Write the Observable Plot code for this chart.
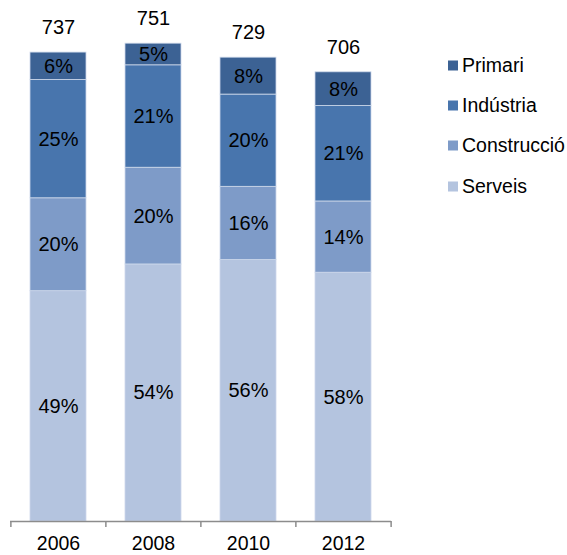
<!DOCTYPE html>
<html>
<head>
<meta charset="utf-8">
<script src="https://cdn.jsdelivr.net/npm/d3@7"></script>
<script src="https://cdn.jsdelivr.net/npm/@observablehq/plot@0.6"></script>
<style>
  html, body { margin: 0; padding: 0; background: #fff; }
  #wrap { position: relative; width: 567px; height: 555px; font-family: "Liberation Sans", Arial, sans-serif; }
  #wrap svg { display: block; }
  .legend { position: absolute; left: 448px; top: 0; }
  .legend .row { position: absolute; left: 0; display: flex; align-items: center; white-space: nowrap; font-size: 19.5px; color: #000; transform: translateY(-50%); }
  .legend .sw { width: 10px; height: 10px; margin-right: 4px; }
</style>
</head>
<body>
<div id="wrap"></div>
<script>
// ---- data ----
const years = ["2006", "2008", "2010", "2012"];
const totals = [737, 751, 729, 706];
const sectors = ["Serveis", "Construcció", "Indústria", "Primari"];
const serveis = [362, 404, 411, 391];
const construccio = [146, 152, 115, 112];
const industria = [186, 161, 145, 150];
const primari = [43, 34, 58, 53];
const pctServeis = ["49%", "54%", "56%", "58%"];
const pctConstruccio = ["20%", "20%", "16%", "14%"];
const pctIndustria = ["25%", "21%", "20%", "21%"];
const pctPrimari = ["6%", "5%", "8%", "8%"];
const colors = ["#b4c4df", "#7e9bc8", "#4875ad", "#3c6294"];

const seriesValues = [serveis, construccio, industria, primari];
const seriesLabels = [pctServeis, pctConstruccio, pctIndustria, pctPrimari];
const rows = [];
sectors.forEach((s, si) => {
  years.forEach((y, yi) => {
    rows.push({year: y, sector: s, value: seriesValues[si][yi], label: seriesLabels[si][yi]});
  });
});
const totalRows = years.map((y, i) => ({year: y, total: totals[i]}));

const W = 567, H = 555, mL = 10, mR = 176;
const step = (W - mL - mR) / years.length;
const FS = 20;

const chart = Plot.plot({
  width: W,
  height: H,
  marginLeft: mL,
  marginRight: mR,
  marginTop: 12,
  marginBottom: 34,
  style: {fontFamily: "'Liberation Sans', Arial, sans-serif", fontSize: FS + "px", color: "#000", background: "#fff"},
  x: {domain: years, type: "band", paddingInner: 0.41, paddingOuter: 0.205, label: null},
  y: {domain: [0, 800], axis: null},
  color: {domain: sectors, range: colors},
  marks: [
    Plot.barY(rows, {x: "year", y: "value", fill: "sector", stroke: "#cdd8ea", strokeWidth: 0.8}),
    Plot.text(rows, Plot.stackY({x: "year", y: "value", z: "sector", text: "label", fill: "#000", fontSize: FS})),
    Plot.text(totalRows, {x: "year", y: "total", text: d => String(d.total), dy: -25, fill: "#000", fontSize: FS}),
    Plot.ruleY([0], {stroke: "#8c8c8c", strokeWidth: 1.5}),
    Plot.axisX({ticks: years, tickSize: 6, tickFormat: () => "", dx: -step / 2, stroke: "#8c8c8c", strokeWidth: 1.5}),
    Plot.axisX({ticks: [years[years.length - 1]], tickSize: 6, tickFormat: () => "", dx: step / 2, stroke: "#8c8c8c", strokeWidth: 1.5}),
    Plot.axisX({ticks: years, tickSize: 0, tickPadding: 15, fill: "#000", fontSize: FS - 0.5, label: null})
  ]
});

const wrap = document.getElementById("wrap");
wrap.appendChild(chart);

// legend
const legendOrder = ["Primari", "Indústria", "Construcció", "Serveis"];
const legendY = [65, 105, 145, 186];
const leg = document.createElement("div");
leg.className = "legend";
legendOrder.forEach((name, i) => {
  const row = document.createElement("div");
  row.className = "row";
  row.style.top = legendY[i] + "px";
  const sw = document.createElement("span");
  sw.className = "sw";
  sw.style.background = colors[sectors.indexOf(name)];
  const t = document.createElement("span");
  t.textContent = name;
  row.appendChild(sw);
  row.appendChild(t);
  leg.appendChild(row);
});
wrap.appendChild(leg);
</script>
</body>
</html>
